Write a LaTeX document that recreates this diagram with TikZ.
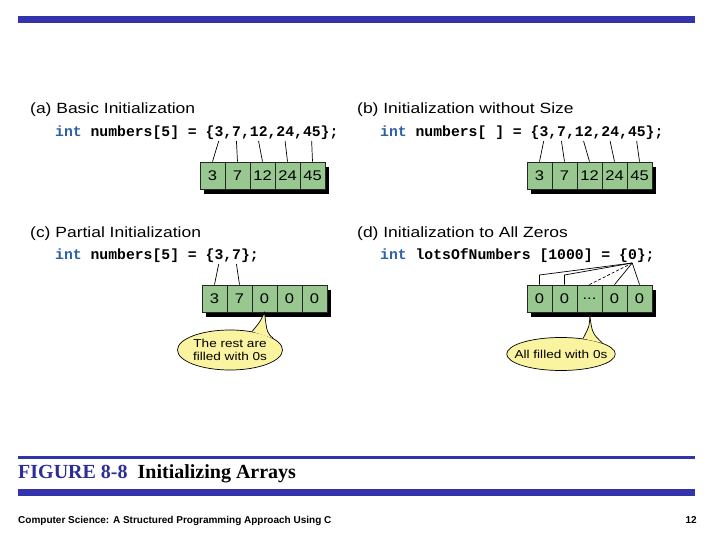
\documentclass[tikz,border=0pt]{standalone}
\usepackage{fontspec}
\usetikzlibrary{shapes.geometric}
\setmonofont{Liberation Mono}
\newfontfamily\sansx[FakeStretch=1.18]{Liberation Sans}
\newfontfamily\capfont{Liberation Serif}
\newfontfamily\footfont{Liberation Sans}

\definecolor{barblue}{RGB}{51,51,170}
\definecolor{figblue}{RGB}{45,45,150}
\definecolor{intblue}{RGB}{45,95,165}
\definecolor{cellgreen}{RGB}{152,200,144}
\definecolor{notefill}{RGB}{250,244,160}

\tikzset{
    cell/.style={draw=black!85, fill=cellgreen, line width=0.8pt, minimum width=25, minimum height=27,
        inner sep=0, font=\sansx\fontsize{14}{16}\selectfont},
    code/.style={anchor=base west, inner sep=0, font=\ttfamily\bfseries\fontsize{14.75}{17}\selectfont},
    title/.style={anchor=base west, inner sep=0, font=\sansx\fontsize{14.8}{18}\selectfont},
    bubble/.style={ellipse, draw, fill=notefill, line width=0.7pt, inner sep=0, align=center,
        font=\sansx\fontsize{11.5}{13}\selectfont},
    link/.style={line width=0.7pt}
}

% array of five cells with a shadow: prefix, left, top, values
\newcommand{\drawArray}[8]{
    \fill (#2+4,#3+5) rectangle ++(125,27);
    \node[cell] (#1-1) at (#2+12.5,#3+13.5) {#4};
    \node[cell] (#1-2) at (#2+37.5,#3+13.5) {#5};
    \node[cell] (#1-3) at (#2+62.5,#3+13.5) {#6};
    \node[cell] (#1-4) at (#2+87.5,#3+13.5) {#7};
    \node[cell] (#1-5) at (#2+112.5,#3+13.5) {#8};
}
\newcommand{\intkw}{\textcolor{intblue}{int}}

\begin{document}
\begin{tikzpicture}[x=1pt, y=-1pt]
\useasboundingbox (0,0) rectangle (720,540);

% top bar
\fill[barblue] (18,16) rectangle (695,23);

% (a) Basic initialization
\node[title] (titleA) at (30,114) {(a) Basic Initialization};
\node[code] (codeA) at (55,137) {\intkw{} numbers[5] = \{3,7,12,24,45\};};
\drawArray{a}{200}{162}{3}{7}{12}{24}{45}
\coordinate (a-p1) at (55+18.5*8.85,141);
\coordinate (a-p2) at (55+20.5*8.85,141);
\coordinate (a-p3) at (55+23*8.85,141);
\coordinate (a-p4) at (55+26*8.85,141);
\coordinate (a-p5) at (55+29*8.85,141);
\draw[link] (a-p1) -- (a-1.north);
\draw[link] (a-p2) -- (a-2.north);
\draw[link] (a-p3) -- (a-3.north);
\draw[link] (a-p4) -- (a-4.north);
\draw[link] (a-p5) -- (a-5.north);

% (b) Initialization without size
\node[title] (titleB) at (357,114) {(b) Initialization without Size};
\node[code] (codeB) at (380,137) {\intkw{} numbers[ ] = \{3,7,12,24,45\};};
\drawArray{b}{527}{162}{3}{7}{12}{24}{45}
\coordinate (b-p1) at (380+18.5*8.85,141);
\coordinate (b-p2) at (380+20.5*8.85,141);
\coordinate (b-p3) at (380+23*8.85,141);
\coordinate (b-p4) at (380+26*8.85,141);
\coordinate (b-p5) at (380+29*8.85,141);
\draw[link] (b-p1) -- (b-1.north);
\draw[link] (b-p2) -- (b-2.north);
\draw[link] (b-p3) -- (b-3.north);
\draw[link] (b-p4) -- (b-4.north);
\draw[link] (b-p5) -- (b-5.north);

% (c) Partial initialization
\node[title] (titleC) at (30,237) {(c) Partial Initialization};
\node[code] (codeC) at (55,259) {\intkw{} numbers[5] = \{3,7\};};
\drawArray{c}{202}{285}{3}{7}{0}{0}{0}
\coordinate (c-p1) at (55+18.5*8.85,264);
\coordinate (c-p2) at (55+20.5*8.85,264);
\draw[link] (c-p1) -- (c-1.north);
\draw[link] (c-p2) -- (c-2.north);
\node[bubble, minimum width=105, minimum height=40] (noteC) at (230,350) {The rest are\\filled with 0s};
\fill[notefill] (noteC.40) .. controls (260,322) .. (c-3.south) .. controls (267,333) .. (noteC.15) -- cycle;
\draw[link] (noteC.40) .. controls (260,322) .. (c-3.south) .. controls (267,333) .. (noteC.15);

% (d) Initialization to all zeros
\node[title] (titleD) at (357,237) {(d) Initialization to All Zeros};
\node[code] (codeD) at (380,259) {\intkw{} lotsOfNumbers [1000] = \{0\};};
\drawArray{d}{527}{285}{0}{0}{...}{0}{0}
\coordinate (d-p0) at (380+28.5*8.85,263);
\coordinate (d-s1) at (539.5,275);
\coordinate (d-s2) at (564.5,275);
\draw[link] (d-p0) -- (d-s1) -- (d-1.north);
\draw[link] (d-p0) -- (d-s2) -- (d-2.north);
\draw[link, dash pattern=on 3pt off 2pt] (d-p0) -- (d-3.north);
\draw[link] (d-p0) -- (d-4.north);
\draw[link] (d-p0) -- (d-5.north);
\node[bubble, inner xsep=-8pt, minimum height=33] (noteD) at (561,354) {All filled with 0s};
\fill[notefill] (noteD.35) .. controls (590,325) .. (d-3.south) .. controls (592,333) .. (noteD.15) -- cycle;
\draw[link] (noteD.35) .. controls (590,325) .. (d-3.south) .. controls (592,333) .. (noteD.15);

% caption and footer
\fill[barblue] (18,456) rectangle (695,458.5);
\node[anchor=base west, inner sep=0, font=\capfont\bfseries\fontsize{20}{22}\selectfont] (caption) at (18,478)
    {\textcolor{figblue}{FIGURE 8-8}\hspace{10pt}Initializing Arrays};
\fill[barblue] (18,489) rectangle (695,496);
\node[anchor=base west, inner sep=0, font=\footfont\bfseries\fontsize{10}{12}\selectfont] (footer) at (18,523)
    {Computer Science: A Structured Programming Approach Using C};
\node[anchor=base east, inner sep=0, font=\footfont\bfseries\fontsize{10}{12}\selectfont] (pageno) at (697,523) {12};
\end{tikzpicture}
\end{document}
